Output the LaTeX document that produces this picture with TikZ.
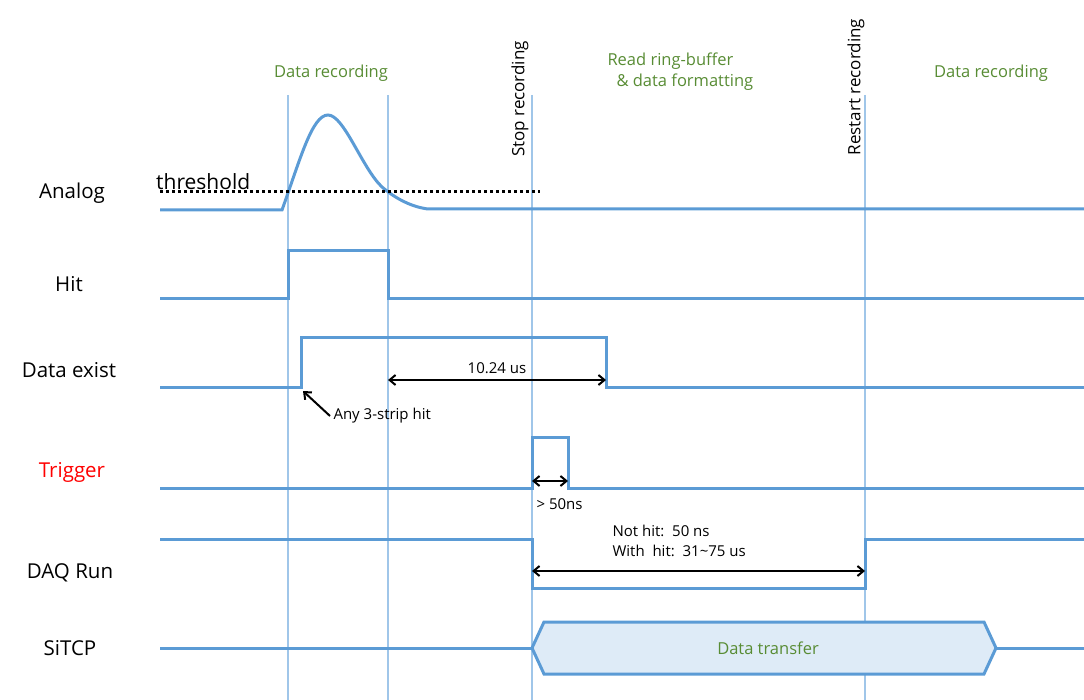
\documentclass[tikz,border=0pt]{standalone}
\usepackage{fontspec}
\setmainfont{Open Sans}
\usetikzlibrary{arrows.meta,positioning,calc}
\definecolor{sigblue}{RGB}{91,155,213}
\definecolor{gridblue}{RGB}{160,198,233}
\definecolor{phasegreen}{RGB}{88,140,52}
\definecolor{pktfill}{RGB}{222,235,247}

\begin{document}
\begin{tikzpicture}[x=1pt,y=-1pt,every node/.style={font=\fontsize{15}{18}\selectfont},
 sig/.style={draw=sigblue,line width=3pt},
 tline/.style={draw=gridblue,line width=1.2pt},
 row/.style={font=\fontsize{20.5}{24}\selectfont},
 phase/.style={text=phasegreen,font=\fontsize{16.5}{21}\selectfont,align=left},
 vlbl/.style={rotate=90,font=\fontsize{17}{20}\selectfont},
 dim/.style={{Straight Barb[length=6pt,width=10pt]}-{Straight Barb[length=6pt,width=10pt]},line width=2pt},
 arr/.style={-{Straight Barb[length=6pt,width=10pt]},line width=2pt},
 thr/.style={line width=3pt,dash pattern=on 3pt off 3pt}]
\useasboundingbox (0,0) rectangle (1084,700);
% event lines
\foreach \t/\n in {288/hitup,388/hitdn,532/stop,865/rst}
  \draw[tline] (\t,95) coordinate (\n) -- (\t,700);
% row labels
\node[row] (analog) at (72,193) {Analog};
\node[row] (hit) at (69,284) {Hit};
\node[row] (dexist) at (69,370) {Data exist};
\node[row,text=red] (trig) at (72,472) {Trigger};
\node[row] (daq) at (70,573) {DAQ Run};
\node[row] (sitcp) at (70,648) {SiTCP};
% phases
\node[phase] (rec1) at (331,73) {Data recording};
\node[phase,anchor=west] (ring) at (604,72) {Read ring-buffer\\\hspace*{9pt}\& data formatting};
\node[phase] (rec2) at (991,73) {Data recording};
\node[vlbl] (stoplbl) at (520,99) {Stop recording};
\node[vlbl] (rstlbl) at (856,87) {Restart recording};
% analog
\draw[sig] (160,210) -- (282,210) .. controls (300,160) and (312,115) .. (328,115)
  .. controls (344,115) and (362,168) .. (382,187) .. controls (396,199) and (412,207) .. (428,209) -- (1084,209);
\draw[thr] (160,192) -- (540,192);
\node[anchor=south west,inner sep=0pt,font=\fontsize{21}{24}\selectfont] (thlbl) at (156,190) {threshold};
% digital lines
\draw[sig] (160,299) -| (288,251) -| (388,299) -- (1084,299);
\draw[sig] (160,387) -| (301,338) -| (606,387) -- (1084,387);
\draw[sig] (160,488) -| (532,437) -| (568,488) -- (1084,488);
\draw[sig] (160,539) -| (532,588) -| (865,539) -- (1084,539);
% SiTCP
\draw[sig] (160,648) -- (532,648);
\draw[sig,fill=pktfill] (532,648) -- (544,622) -- (984,622) -- (996,648) -- (984,674) -- (544,674) -- cycle;
\draw[sig] (996,648) -- (1084,648);
\node[phase] (xfer) at (768,648) {Data transfer};
% annotations
\coordinate (w0) at (388,380); \coordinate (w1) at (606,380);
\draw[dim] (w0) -- (w1);
\node (t1024) at (497,368) {10.24 us};
\coordinate (derise) at (303,391);
\node[anchor=west] (any) at (330,416) {Any 3-strip hit};
\draw[arr] (any.west) -- (derise);
\coordinate (p0) at (532,481); \coordinate (p1) at (568,481);
\draw[dim] (p0) -- (p1);
\node[anchor=west] (pw) at (533,504) {> 50ns};
\coordinate (r0) at (532,571); \coordinate (r1) at (865,571);
\draw[dim] (r0) -- (r1);
\node[anchor=north west,align=left,font=\fontsize{15}{20}\selectfont] (busy) at (609,522) {Not hit:\ \ 50 ns\\With\ \ hit:\ \ 31\textasciitilde75 us};
\end{tikzpicture}
\end{document}
